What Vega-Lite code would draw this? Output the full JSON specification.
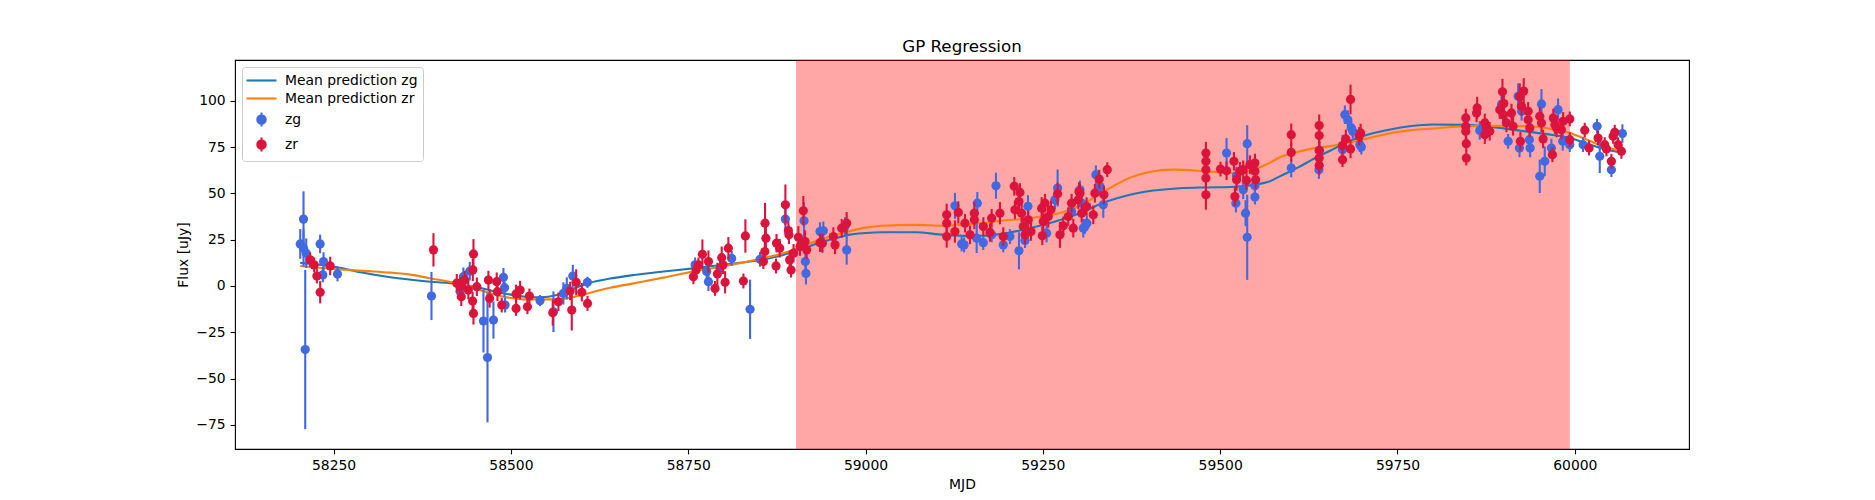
{
  "$schema": "https://vega.github.io/schema/vega-lite/v6.json",
  "width": 1454,
  "height": 389,
  "autosize": "none",
  "padding": {"left": 235, "top": 60, "right": 186, "bottom": 51},
  "background": "white",
  "title": {"text": "GP Regression", "fontSize": 16.7, "fontWeight": "normal", "font": "DejaVu Sans", "color": "black", "offset": 4},
  "datasets": {
    "span": [{"start": 58902, "end": 59993}],
    "gp": [
      {"mjd": 58203, "flux": 12.5, "band": "Mean prediction zg"},
      {"mjd": 58230, "flux": 11.5, "band": "Mean prediction zg"},
      {"mjd": 58255, "flux": 10.1, "band": "Mean prediction zg"},
      {"mjd": 58290, "flux": 7.3, "band": "Mean prediction zg"},
      {"mjd": 58330, "flux": 4.7, "band": "Mean prediction zg"},
      {"mjd": 58386, "flux": 2.3, "band": "Mean prediction zg"},
      {"mjd": 58424, "flux": 1.1, "band": "Mean prediction zg"},
      {"mjd": 58455, "flux": -1.0, "band": "Mean prediction zg"},
      {"mjd": 58490, "flux": -4.0, "band": "Mean prediction zg"},
      {"mjd": 58520, "flux": -5.8, "band": "Mean prediction zg"},
      {"mjd": 58541, "flux": -6.1, "band": "Mean prediction zg"},
      {"mjd": 58565, "flux": -4.9, "band": "Mean prediction zg"},
      {"mjd": 58590, "flux": -1.2, "band": "Mean prediction zg"},
      {"mjd": 58612, "flux": 1.8, "band": "Mean prediction zg"},
      {"mjd": 58640, "flux": 4.0, "band": "Mean prediction zg"},
      {"mjd": 58673, "flux": 5.9, "band": "Mean prediction zg"},
      {"mjd": 58715, "flux": 7.8, "band": "Mean prediction zg"},
      {"mjd": 58757, "flux": 9.5, "band": "Mean prediction zg"},
      {"mjd": 58800, "flux": 11.5, "band": "Mean prediction zg"},
      {"mjd": 58837, "flux": 13.2, "band": "Mean prediction zg"},
      {"mjd": 58884, "flux": 16.8, "band": "Mean prediction zg"},
      {"mjd": 58910, "flux": 20.0, "band": "Mean prediction zg"},
      {"mjd": 58936, "flux": 23.5, "band": "Mean prediction zg"},
      {"mjd": 58960, "flux": 26.0, "band": "Mean prediction zg"},
      {"mjd": 58976, "flux": 27.6, "band": "Mean prediction zg"},
      {"mjd": 59000, "flux": 28.6, "band": "Mean prediction zg"},
      {"mjd": 59023, "flux": 29.0, "band": "Mean prediction zg"},
      {"mjd": 59070, "flux": 29.0, "band": "Mean prediction zg"},
      {"mjd": 59110, "flux": 27.6, "band": "Mean prediction zg"},
      {"mjd": 59150, "flux": 27.0, "band": "Mean prediction zg"},
      {"mjd": 59190, "flux": 28.0, "band": "Mean prediction zg"},
      {"mjd": 59230, "flux": 31.0, "band": "Mean prediction zg"},
      {"mjd": 59265, "flux": 34.5, "band": "Mean prediction zg"},
      {"mjd": 59300, "flux": 39.0, "band": "Mean prediction zg"},
      {"mjd": 59340, "flux": 45.6, "band": "Mean prediction zg"},
      {"mjd": 59370, "flux": 49.0, "band": "Mean prediction zg"},
      {"mjd": 59396, "flux": 51.0, "band": "Mean prediction zg"},
      {"mjd": 59443, "flux": 52.8, "band": "Mean prediction zg"},
      {"mjd": 59480, "flux": 53.2, "band": "Mean prediction zg"},
      {"mjd": 59514, "flux": 53.4, "band": "Mean prediction zg"},
      {"mjd": 59547, "flux": 54.6, "band": "Mean prediction zg"},
      {"mjd": 59570, "flux": 56.5, "band": "Mean prediction zg"},
      {"mjd": 59584, "flux": 59.2, "band": "Mean prediction zg"},
      {"mjd": 59610, "flux": 64.0, "band": "Mean prediction zg"},
      {"mjd": 59631, "flux": 68.5, "band": "Mean prediction zg"},
      {"mjd": 59655, "flux": 73.0, "band": "Mean prediction zg"},
      {"mjd": 59669, "flux": 75.8, "band": "Mean prediction zg"},
      {"mjd": 59690, "flux": 79.3, "band": "Mean prediction zg"},
      {"mjd": 59711, "flux": 82.0, "band": "Mean prediction zg"},
      {"mjd": 59740, "flux": 84.5, "band": "Mean prediction zg"},
      {"mjd": 59767, "flux": 86.2, "band": "Mean prediction zg"},
      {"mjd": 59800, "flux": 87.2, "band": "Mean prediction zg"},
      {"mjd": 59843, "flux": 87.0, "band": "Mean prediction zg"},
      {"mjd": 59880, "flux": 86.0, "band": "Mean prediction zg"},
      {"mjd": 59920, "flux": 84.0, "band": "Mean prediction zg"},
      {"mjd": 59960, "flux": 82.0, "band": "Mean prediction zg"},
      {"mjd": 59993, "flux": 79.9, "band": "Mean prediction zg"},
      {"mjd": 60020, "flux": 76.5, "band": "Mean prediction zg"},
      {"mjd": 60040, "flux": 74.0, "band": "Mean prediction zg"},
      {"mjd": 60068, "flux": 72.1, "band": "Mean prediction zg"},
      {"mjd": 58203, "flux": 10.8, "band": "Mean prediction zr"},
      {"mjd": 58255, "flux": 9.0, "band": "Mean prediction zr"},
      {"mjd": 58300, "flux": 8.0, "band": "Mean prediction zr"},
      {"mjd": 58330, "flux": 7.2, "band": "Mean prediction zr"},
      {"mjd": 58360, "flux": 6.0, "band": "Mean prediction zr"},
      {"mjd": 58386, "flux": 4.2, "band": "Mean prediction zr"},
      {"mjd": 58424, "flux": 1.5, "band": "Mean prediction zr"},
      {"mjd": 58455, "flux": -2.0, "band": "Mean prediction zr"},
      {"mjd": 58490, "flux": -5.8, "band": "Mean prediction zr"},
      {"mjd": 58518, "flux": -7.2, "band": "Mean prediction zr"},
      {"mjd": 58565, "flux": -7.2, "band": "Mean prediction zr"},
      {"mjd": 58590, "flux": -5.8, "band": "Mean prediction zr"},
      {"mjd": 58612, "flux": -3.6, "band": "Mean prediction zr"},
      {"mjd": 58640, "flux": -1.0, "band": "Mean prediction zr"},
      {"mjd": 58673, "flux": 1.4, "band": "Mean prediction zr"},
      {"mjd": 58715, "flux": 4.5, "band": "Mean prediction zr"},
      {"mjd": 58757, "flux": 7.8, "band": "Mean prediction zr"},
      {"mjd": 58800, "flux": 10.7, "band": "Mean prediction zr"},
      {"mjd": 58837, "flux": 13.5, "band": "Mean prediction zr"},
      {"mjd": 58884, "flux": 17.7, "band": "Mean prediction zr"},
      {"mjd": 58936, "flux": 24.9, "band": "Mean prediction zr"},
      {"mjd": 58976, "flux": 29.4, "band": "Mean prediction zr"},
      {"mjd": 59000, "flux": 31.5, "band": "Mean prediction zr"},
      {"mjd": 59023, "flux": 32.5, "band": "Mean prediction zr"},
      {"mjd": 59070, "flux": 33.0, "band": "Mean prediction zr"},
      {"mjd": 59110, "flux": 32.5, "band": "Mean prediction zr"},
      {"mjd": 59150, "flux": 33.5, "band": "Mean prediction zr"},
      {"mjd": 59192, "flux": 35.2, "band": "Mean prediction zr"},
      {"mjd": 59239, "flux": 37.0, "band": "Mean prediction zr"},
      {"mjd": 59270, "flux": 39.0, "band": "Mean prediction zr"},
      {"mjd": 59300, "flux": 43.0, "band": "Mean prediction zr"},
      {"mjd": 59340, "flux": 51.9, "band": "Mean prediction zr"},
      {"mjd": 59373, "flux": 58.5, "band": "Mean prediction zr"},
      {"mjd": 59400, "flux": 61.5, "band": "Mean prediction zr"},
      {"mjd": 59434, "flux": 62.8, "band": "Mean prediction zr"},
      {"mjd": 59481, "flux": 61.9, "band": "Mean prediction zr"},
      {"mjd": 59518, "flux": 61.0, "band": "Mean prediction zr"},
      {"mjd": 59547, "flux": 62.8, "band": "Mean prediction zr"},
      {"mjd": 59570, "flux": 66.5, "band": "Mean prediction zr"},
      {"mjd": 59584, "flux": 69.5, "band": "Mean prediction zr"},
      {"mjd": 59610, "flux": 72.5, "band": "Mean prediction zr"},
      {"mjd": 59631, "flux": 74.3, "band": "Mean prediction zr"},
      {"mjd": 59655, "flux": 75.5, "band": "Mean prediction zr"},
      {"mjd": 59669, "flux": 76.5, "band": "Mean prediction zr"},
      {"mjd": 59690, "flux": 78.0, "band": "Mean prediction zr"},
      {"mjd": 59711, "flux": 80.0, "band": "Mean prediction zr"},
      {"mjd": 59740, "flux": 82.5, "band": "Mean prediction zr"},
      {"mjd": 59767, "flux": 84.0, "band": "Mean prediction zr"},
      {"mjd": 59800, "flux": 85.0, "band": "Mean prediction zr"},
      {"mjd": 59843, "flux": 86.2, "band": "Mean prediction zr"},
      {"mjd": 59900, "flux": 86.5, "band": "Mean prediction zr"},
      {"mjd": 59946, "flux": 86.0, "band": "Mean prediction zr"},
      {"mjd": 59970, "flux": 84.5, "band": "Mean prediction zr"},
      {"mjd": 59993, "flux": 82.6, "band": "Mean prediction zr"},
      {"mjd": 60020, "flux": 78.5, "band": "Mean prediction zr"},
      {"mjd": 60040, "flux": 75.4, "band": "Mean prediction zr"},
      {"mjd": 60068, "flux": 72.7, "band": "Mean prediction zr"}
    ],
    "zg": [
      {"mjd": 58203, "flux": 22.7, "err": 8, "band": "zg"},
      {"mjd": 58207.6, "flux": 36.1, "err": 15, "band": "zg"},
      {"mjd": 58210, "flux": -34.3, "err": 43, "band": "zg"},
      {"mjd": 58207.6, "flux": 20.4, "err": 10, "band": "zg"},
      {"mjd": 58211.4, "flux": 17.7, "err": 8, "band": "zg"},
      {"mjd": 58231, "flux": 22.7, "err": 5, "band": "zg"},
      {"mjd": 58235.8, "flux": 13.2, "err": 5, "band": "zg"},
      {"mjd": 58234.8, "flux": 6.0, "err": 4, "band": "zg"},
      {"mjd": 58255.5, "flux": 6.5, "err": 4, "band": "zg"},
      {"mjd": 58388, "flux": -5.4, "err": 13, "band": "zg"},
      {"mjd": 58428.4, "flux": -3, "err": 5, "band": "zg"},
      {"mjd": 58433, "flux": 5, "err": 5, "band": "zg"},
      {"mjd": 58442, "flux": 8, "err": 5, "band": "zg"},
      {"mjd": 58489.5, "flux": 4.7, "err": 5, "band": "zg"},
      {"mjd": 58491, "flux": -0.9, "err": 5, "band": "zg"},
      {"mjd": 58461.3, "flux": -18.9, "err": 17, "band": "zg"},
      {"mjd": 58467, "flux": -38.6, "err": 35, "band": "zg"},
      {"mjd": 58475.4, "flux": -18.4, "err": 10, "band": "zg"},
      {"mjd": 58491.8, "flux": -10.3, "err": 4, "band": "zg"},
      {"mjd": 58541.1, "flux": -7.9, "err": 3, "band": "zg"},
      {"mjd": 58560, "flux": -13.9, "err": 11, "band": "zg"},
      {"mjd": 58574, "flux": -4, "err": 6, "band": "zg"},
      {"mjd": 58578.8, "flux": -1.3, "err": 6, "band": "zg"},
      {"mjd": 58587.3, "flux": 5.4, "err": 6, "band": "zg"},
      {"mjd": 58607.9, "flux": 2, "err": 3, "band": "zg"},
      {"mjd": 58759.7, "flux": 11.4, "err": 4, "band": "zg"},
      {"mjd": 58776.1, "flux": 7.8, "err": 5, "band": "zg"},
      {"mjd": 58778.5, "flux": 2.3, "err": 5, "band": "zg"},
      {"mjd": 58794.9, "flux": 9.6, "err": 4, "band": "zg"},
      {"mjd": 58811.3, "flux": 14.9, "err": 4, "band": "zg"},
      {"mjd": 58837.2, "flux": -12.6, "err": 16, "band": "zg"},
      {"mjd": 58851.3, "flux": 14.4, "err": 4, "band": "zg"},
      {"mjd": 58887, "flux": 36.1, "err": 8, "band": "zg"},
      {"mjd": 58913.3, "flux": 35.2, "err": 10, "band": "zg"},
      {"mjd": 58915.2, "flux": 13.2, "err": 6, "band": "zg"},
      {"mjd": 58916, "flux": 6.8, "err": 6, "band": "zg"},
      {"mjd": 58935.8, "flux": 29.4, "err": 5, "band": "zg"},
      {"mjd": 58940.5, "flux": 29.8, "err": 5, "band": "zg"},
      {"mjd": 58939, "flux": 23.1, "err": 5, "band": "zg"},
      {"mjd": 58973.4, "flux": 19.5, "err": 8, "band": "zg"},
      {"mjd": 58971, "flux": 32.1, "err": 5, "band": "zg"},
      {"mjd": 59126.1, "flux": 43.3, "err": 7, "band": "zg"},
      {"mjd": 59157.6, "flux": 44.7, "err": 6, "band": "zg"},
      {"mjd": 59183.9, "flux": 54.1, "err": 7, "band": "zg"},
      {"mjd": 59135.5, "flux": 22.7, "err": 4, "band": "zg"},
      {"mjd": 59139, "flux": 22.2, "err": 4, "band": "zg"},
      {"mjd": 59156.7, "flux": 25.8, "err": 8, "band": "zg"},
      {"mjd": 59166, "flux": 23.4, "err": 4, "band": "zg"},
      {"mjd": 59177.8, "flux": 27.6, "err": 4, "band": "zg"},
      {"mjd": 59194.2, "flux": 22.2, "err": 4, "band": "zg"},
      {"mjd": 59203.6, "flux": 26.7, "err": 4, "band": "zg"},
      {"mjd": 59216.3, "flux": 19, "err": 10, "band": "zg"},
      {"mjd": 59224.8, "flux": 24.5, "err": 4, "band": "zg"},
      {"mjd": 59229, "flux": 43, "err": 6, "band": "zg"},
      {"mjd": 59255.3, "flux": 28.5, "err": 5, "band": "zg"},
      {"mjd": 59270.8, "flux": 52.9, "err": 10, "band": "zg"},
      {"mjd": 59267, "flux": 46.5, "err": 5, "band": "zg"},
      {"mjd": 59290.5, "flux": 40.2, "err": 4, "band": "zg"},
      {"mjd": 59307, "flux": 31.2, "err": 5, "band": "zg"},
      {"mjd": 59305, "flux": 44.7, "err": 5, "band": "zg"},
      {"mjd": 59302.3, "flux": 51.9, "err": 5, "band": "zg"},
      {"mjd": 59309.3, "flux": 32.1, "err": 4, "band": "zg"},
      {"mjd": 59312, "flux": 33.9, "err": 4, "band": "zg"},
      {"mjd": 59324.8, "flux": 60.1, "err": 5, "band": "zg"},
      {"mjd": 59330.5, "flux": 53.7, "err": 5, "band": "zg"},
      {"mjd": 59335.2, "flux": 43.8, "err": 7, "band": "zg"},
      {"mjd": 59509, "flux": 71.8, "err": 8, "band": "zg"},
      {"mjd": 59522.2, "flux": 44.7, "err": 5, "band": "zg"},
      {"mjd": 59523, "flux": 59.5, "err": 5, "band": "zg"},
      {"mjd": 59532.5, "flux": 51.9, "err": 5, "band": "zg"},
      {"mjd": 59538.1, "flux": 76.8, "err": 10, "band": "zg"},
      {"mjd": 59535.8, "flux": 39.3, "err": 7, "band": "zg"},
      {"mjd": 59538.1, "flux": 26.3, "err": 23, "band": "zg"},
      {"mjd": 59549, "flux": 54.1, "err": 4, "band": "zg"},
      {"mjd": 59549, "flux": 48, "err": 4, "band": "zg"},
      {"mjd": 59600.2, "flux": 63.7, "err": 5, "band": "zg"},
      {"mjd": 59639.2, "flux": 62.8, "err": 5, "band": "zg"},
      {"mjd": 59640, "flux": 73.2, "err": 5, "band": "zg"},
      {"mjd": 59672.5, "flux": 73.6, "err": 8, "band": "zg"},
      {"mjd": 59675.8, "flux": 92.5, "err": 5, "band": "zg"},
      {"mjd": 59680, "flux": 89.8, "err": 5, "band": "zg"},
      {"mjd": 59685, "flux": 85.3, "err": 4, "band": "zg"},
      {"mjd": 59687, "flux": 83.5, "err": 4, "band": "zg"},
      {"mjd": 59697, "flux": 76.3, "err": 4, "band": "zg"},
      {"mjd": 59699, "flux": 75, "err": 4, "band": "zg"},
      {"mjd": 59866, "flux": 84, "err": 5, "band": "zg"},
      {"mjd": 59896.6, "flux": 97.9, "err": 6, "band": "zg"},
      {"mjd": 59920.1, "flux": 102.4, "err": 7, "band": "zg"},
      {"mjd": 59925, "flux": 94.3, "err": 5, "band": "zg"},
      {"mjd": 59906, "flux": 78.1, "err": 4, "band": "zg"},
      {"mjd": 59922, "flux": 74.5, "err": 5, "band": "zg"},
      {"mjd": 59936, "flux": 79, "err": 5, "band": "zg"},
      {"mjd": 59937, "flux": 74.5, "err": 5, "band": "zg"},
      {"mjd": 59953, "flux": 98.3, "err": 8, "band": "zg"},
      {"mjd": 59950.6, "flux": 59.2, "err": 9, "band": "zg"},
      {"mjd": 59957.6, "flux": 67.3, "err": 8, "band": "zg"},
      {"mjd": 59967, "flux": 74.5, "err": 5, "band": "zg"},
      {"mjd": 59976.4, "flux": 95.2, "err": 6, "band": "zg"},
      {"mjd": 59983, "flux": 78.1, "err": 5, "band": "zg"},
      {"mjd": 59992.9, "flux": 76.3, "err": 4, "band": "zg"},
      {"mjd": 60011.7, "flux": 76.3, "err": 4, "band": "zg"},
      {"mjd": 60031.4, "flux": 86.2, "err": 4, "band": "zg"},
      {"mjd": 60035.2, "flux": 70, "err": 9, "band": "zg"},
      {"mjd": 60051.6, "flux": 62.8, "err": 4, "band": "zg"},
      {"mjd": 60067.1, "flux": 82.3, "err": 5, "band": "zg"}
    ],
    "zr": [
      {"mjd": 58217, "flux": 14.1, "err": 4, "band": "zr"},
      {"mjd": 58222.6, "flux": 11.4, "err": 4, "band": "zr"},
      {"mjd": 58226.4, "flux": 5.4, "err": 4, "band": "zr"},
      {"mjd": 58231.1, "flux": -3.4, "err": 6, "band": "zr"},
      {"mjd": 58245.2, "flux": 10.8, "err": 5, "band": "zr"},
      {"mjd": 58390.8, "flux": 19.5, "err": 9, "band": "zr"},
      {"mjd": 58447.2, "flux": 17.3, "err": 8, "band": "zr"},
      {"mjd": 58446.3, "flux": 8.7, "err": 6, "band": "zr"},
      {"mjd": 58447.2, "flux": -14.8, "err": 6, "band": "zr"},
      {"mjd": 58446, "flux": -8.1, "err": 5, "band": "zr"},
      {"mjd": 58428.4, "flux": -0.4, "err": 5, "band": "zr"},
      {"mjd": 58430, "flux": -5.8, "err": 5, "band": "zr"},
      {"mjd": 58423.7, "flux": 1.5, "err": 5, "band": "zr"},
      {"mjd": 58435, "flux": 3.2, "err": 5, "band": "zr"},
      {"mjd": 58440, "flux": -2.2, "err": 5, "band": "zr"},
      {"mjd": 58452, "flux": -0.4, "err": 5, "band": "zr"},
      {"mjd": 58468.3, "flux": 3.2, "err": 5, "band": "zr"},
      {"mjd": 58470, "flux": -6.7, "err": 5, "band": "zr"},
      {"mjd": 58480, "flux": 2.3, "err": 5, "band": "zr"},
      {"mjd": 58481, "flux": -3.1, "err": 5, "band": "zr"},
      {"mjd": 58487.1, "flux": -10.3, "err": 4, "band": "zr"},
      {"mjd": 58507.3, "flux": -4.3, "err": 5, "band": "zr"},
      {"mjd": 58507.3, "flux": -12.1, "err": 4, "band": "zr"},
      {"mjd": 58513, "flux": -2.2, "err": 5, "band": "zr"},
      {"mjd": 58523.3, "flux": -11.2, "err": 4, "band": "zr"},
      {"mjd": 58526.1, "flux": -5.4, "err": 4, "band": "zr"},
      {"mjd": 58559, "flux": -14.4, "err": 7, "band": "zr"},
      {"mjd": 58567, "flux": -8.5, "err": 5, "band": "zr"},
      {"mjd": 58585.8, "flux": -13, "err": 11, "band": "zr"},
      {"mjd": 58583.5, "flux": -2.7, "err": 5, "band": "zr"},
      {"mjd": 58592, "flux": 2, "err": 7, "band": "zr"},
      {"mjd": 58600, "flux": -3.4, "err": 5, "band": "zr"},
      {"mjd": 58608, "flux": -9.4, "err": 4, "band": "zr"},
      {"mjd": 58757.3, "flux": 5, "err": 4, "band": "zr"},
      {"mjd": 58761, "flux": 8.6, "err": 4, "band": "zr"},
      {"mjd": 58764.4, "flux": 11.4, "err": 4, "band": "zr"},
      {"mjd": 58770, "flux": 17.1, "err": 8, "band": "zr"},
      {"mjd": 58778.5, "flux": 13.2, "err": 6, "band": "zr"},
      {"mjd": 58787.8, "flux": -1.3, "err": 4, "band": "zr"},
      {"mjd": 58791.1, "flux": 6.5, "err": 6, "band": "zr"},
      {"mjd": 58797.2, "flux": 15.3, "err": 6, "band": "zr"},
      {"mjd": 58799, "flux": 11.4, "err": 5, "band": "zr"},
      {"mjd": 58802, "flux": 2, "err": 6, "band": "zr"},
      {"mjd": 58806.6, "flux": 20.4, "err": 6, "band": "zr"},
      {"mjd": 58827.8, "flux": 2.7, "err": 4, "band": "zr"},
      {"mjd": 58830.6, "flux": 27, "err": 9, "band": "zr"},
      {"mjd": 58858.3, "flux": 33.9, "err": 11, "band": "zr"},
      {"mjd": 58859.5, "flux": 25.8, "err": 8, "band": "zr"},
      {"mjd": 58858, "flux": 18.6, "err": 5, "band": "zr"},
      {"mjd": 58856, "flux": 13.2, "err": 4, "band": "zr"},
      {"mjd": 58873.8, "flux": 10.8, "err": 4, "band": "zr"},
      {"mjd": 58874.5, "flux": 23.1, "err": 5, "band": "zr"},
      {"mjd": 58879, "flux": 20.4, "err": 5, "band": "zr"},
      {"mjd": 58887, "flux": 43.8, "err": 11, "band": "zr"},
      {"mjd": 58891.2, "flux": 29.9, "err": 5, "band": "zr"},
      {"mjd": 58892, "flux": 27.6, "err": 5, "band": "zr"},
      {"mjd": 58893, "flux": 14.1, "err": 5, "band": "zr"},
      {"mjd": 58895, "flux": 8.6, "err": 4, "band": "zr"},
      {"mjd": 58898.5, "flux": 17.7, "err": 5, "band": "zr"},
      {"mjd": 58905.3, "flux": 26.3, "err": 6, "band": "zr"},
      {"mjd": 58907.6, "flux": 21.3, "err": 5, "band": "zr"},
      {"mjd": 58912.3, "flux": 40.6, "err": 8, "band": "zr"},
      {"mjd": 58914.7, "flux": 24, "err": 6, "band": "zr"},
      {"mjd": 58917, "flux": 19.5, "err": 5, "band": "zr"},
      {"mjd": 58935.8, "flux": 23.4, "err": 5, "band": "zr"},
      {"mjd": 58939.1, "flux": 23.1, "err": 5, "band": "zr"},
      {"mjd": 58954.6, "flux": 26.7, "err": 5, "band": "zr"},
      {"mjd": 58957, "flux": 22.2, "err": 5, "band": "zr"},
      {"mjd": 58966.4, "flux": 31.2, "err": 5, "band": "zr"},
      {"mjd": 58973.4, "flux": 33.9, "err": 6, "band": "zr"},
      {"mjd": 59114.4, "flux": 38.4, "err": 6, "band": "zr"},
      {"mjd": 59114.4, "flux": 33.9, "err": 6, "band": "zr"},
      {"mjd": 59114.4, "flux": 26.7, "err": 6, "band": "zr"},
      {"mjd": 59130.8, "flux": 39.7, "err": 6, "band": "zr"},
      {"mjd": 59126, "flux": 29.4, "err": 6, "band": "zr"},
      {"mjd": 59140.2, "flux": 33.9, "err": 5, "band": "zr"},
      {"mjd": 59147.3, "flux": 27.6, "err": 5, "band": "zr"},
      {"mjd": 59153.4, "flux": 39.3, "err": 6, "band": "zr"},
      {"mjd": 59153.4, "flux": 35.7, "err": 5, "band": "zr"},
      {"mjd": 59166.1, "flux": 32.1, "err": 5, "band": "zr"},
      {"mjd": 59175.4, "flux": 28.9, "err": 5, "band": "zr"},
      {"mjd": 59177.8, "flux": 36.6, "err": 5, "band": "zr"},
      {"mjd": 59189.5, "flux": 39.3, "err": 6, "band": "zr"},
      {"mjd": 59194.2, "flux": 26.7, "err": 5, "band": "zr"},
      {"mjd": 59209.7, "flux": 53.8, "err": 5, "band": "zr"},
      {"mjd": 59210.6, "flux": 41.1, "err": 5, "band": "zr"},
      {"mjd": 59217.7, "flux": 50.5, "err": 5, "band": "zr"},
      {"mjd": 59216.3, "flux": 45.6, "err": 5, "band": "zr"},
      {"mjd": 59220, "flux": 39.3, "err": 5, "band": "zr"},
      {"mjd": 59222.4, "flux": 32.1, "err": 5, "band": "zr"},
      {"mjd": 59224.8, "flux": 27.6, "err": 5, "band": "zr"},
      {"mjd": 59229.5, "flux": 35.7, "err": 5, "band": "zr"},
      {"mjd": 59233.3, "flux": 29.4, "err": 5, "band": "zr"},
      {"mjd": 59248.3, "flux": 42, "err": 6, "band": "zr"},
      {"mjd": 59250.6, "flux": 34.8, "err": 5, "band": "zr"},
      {"mjd": 59249.2, "flux": 27.1, "err": 5, "band": "zr"},
      {"mjd": 59253, "flux": 44.7, "err": 5, "band": "zr"},
      {"mjd": 59257.7, "flux": 37.5, "err": 6, "band": "zr"},
      {"mjd": 59261.4, "flux": 41.1, "err": 5, "band": "zr"},
      {"mjd": 59270.8, "flux": 49.8, "err": 6, "band": "zr"},
      {"mjd": 59274.1, "flux": 27.6, "err": 7, "band": "zr"},
      {"mjd": 59278.8, "flux": 32.5, "err": 5, "band": "zr"},
      {"mjd": 59285.8, "flux": 37.5, "err": 5, "band": "zr"},
      {"mjd": 59290.5, "flux": 44.7, "err": 5, "band": "zr"},
      {"mjd": 59292.9, "flux": 31.2, "err": 5, "band": "zr"},
      {"mjd": 59301, "flux": 51, "err": 5, "band": "zr"},
      {"mjd": 59304.7, "flux": 39.3, "err": 5, "band": "zr"},
      {"mjd": 59300, "flux": 46.5, "err": 5, "band": "zr"},
      {"mjd": 59302.3, "flux": 50.1, "err": 5, "band": "zr"},
      {"mjd": 59311.7, "flux": 42.9, "err": 5, "band": "zr"},
      {"mjd": 59321.1, "flux": 38.4, "err": 5, "band": "zr"},
      {"mjd": 59323.4, "flux": 50.1, "err": 5, "band": "zr"},
      {"mjd": 59329.5, "flux": 57.7, "err": 5, "band": "zr"},
      {"mjd": 59336.1, "flux": 49.2, "err": 5, "band": "zr"},
      {"mjd": 59340.8, "flux": 62.8, "err": 4, "band": "zr"},
      {"mjd": 59479.9, "flux": 71.8, "err": 6, "band": "zr"},
      {"mjd": 59479.9, "flux": 67.3, "err": 6, "band": "zr"},
      {"mjd": 59479.9, "flux": 62.8, "err": 6, "band": "zr"},
      {"mjd": 59479.9, "flux": 58.3, "err": 6, "band": "zr"},
      {"mjd": 59479.9, "flux": 49.2, "err": 8, "band": "zr"},
      {"mjd": 59500.5, "flux": 63.1, "err": 4, "band": "zr"},
      {"mjd": 59509, "flux": 62.2, "err": 5, "band": "zr"},
      {"mjd": 59519.4, "flux": 67.3, "err": 5, "band": "zr"},
      {"mjd": 59520.8, "flux": 48.3, "err": 5, "band": "zr"},
      {"mjd": 59523.1, "flux": 57.4, "err": 6, "band": "zr"},
      {"mjd": 59527.8, "flux": 61.9, "err": 5, "band": "zr"},
      {"mjd": 59532.5, "flux": 62.8, "err": 5, "band": "zr"},
      {"mjd": 59537.2, "flux": 57, "err": 5, "band": "zr"},
      {"mjd": 59541.9, "flux": 65.5, "err": 5, "band": "zr"},
      {"mjd": 59549, "flux": 66.4, "err": 5, "band": "zr"},
      {"mjd": 59549, "flux": 61.9, "err": 5, "band": "zr"},
      {"mjd": 59550, "flux": 57.4, "err": 5, "band": "zr"},
      {"mjd": 59600.2, "flux": 81.7, "err": 6, "band": "zr"},
      {"mjd": 59600.2, "flux": 72.1, "err": 5, "band": "zr"},
      {"mjd": 59639.6, "flux": 86.6, "err": 6, "band": "zr"},
      {"mjd": 59639.6, "flux": 81.2, "err": 5, "band": "zr"},
      {"mjd": 59639.6, "flux": 73.2, "err": 5, "band": "zr"},
      {"mjd": 59639.6, "flux": 69.1, "err": 5, "band": "zr"},
      {"mjd": 59639.6, "flux": 65, "err": 5, "band": "zr"},
      {"mjd": 59672.5, "flux": 68.2, "err": 4, "band": "zr"},
      {"mjd": 59677.2, "flux": 79.4, "err": 5, "band": "zr"},
      {"mjd": 59672.5, "flux": 75.8, "err": 4, "band": "zr"},
      {"mjd": 59683.8, "flux": 100.7, "err": 8, "band": "zr"},
      {"mjd": 59683.8, "flux": 74, "err": 5, "band": "zr"},
      {"mjd": 59696, "flux": 80.8, "err": 5, "band": "zr"},
      {"mjd": 59698, "flux": 82.6, "err": 5, "band": "zr"},
      {"mjd": 59846.3, "flux": 90.7, "err": 5, "band": "zr"},
      {"mjd": 59846.3, "flux": 86.2, "err": 5, "band": "zr"},
      {"mjd": 59846.3, "flux": 83.5, "err": 5, "band": "zr"},
      {"mjd": 59847, "flux": 76.8, "err": 4, "band": "zr"},
      {"mjd": 59847, "flux": 69.1, "err": 4, "band": "zr"},
      {"mjd": 59862.3, "flux": 96.1, "err": 6, "band": "zr"},
      {"mjd": 59861.5, "flux": 93.4, "err": 5, "band": "zr"},
      {"mjd": 59873.1, "flux": 88, "err": 5, "band": "zr"},
      {"mjd": 59873.1, "flux": 81.7, "err": 5, "band": "zr"},
      {"mjd": 59875.5, "flux": 85.3, "err": 5, "band": "zr"},
      {"mjd": 59880, "flux": 83.5, "err": 5, "band": "zr"},
      {"mjd": 59894.2, "flux": 95.2, "err": 5, "band": "zr"},
      {"mjd": 59898, "flux": 104.8, "err": 7, "band": "zr"},
      {"mjd": 59900, "flux": 98.5, "err": 6, "band": "zr"},
      {"mjd": 59899, "flux": 92.5, "err": 5, "band": "zr"},
      {"mjd": 59903.6, "flux": 88, "err": 5, "band": "zr"},
      {"mjd": 59910.7, "flux": 93.4, "err": 5, "band": "zr"},
      {"mjd": 59913, "flux": 86.2, "err": 5, "band": "zr"},
      {"mjd": 59922.4, "flux": 102.4, "err": 7, "band": "zr"},
      {"mjd": 59928, "flux": 105.2, "err": 7, "band": "zr"},
      {"mjd": 59924.8, "flux": 97, "err": 5, "band": "zr"},
      {"mjd": 59934.2, "flux": 94.3, "err": 5, "band": "zr"},
      {"mjd": 59934.2, "flux": 89.8, "err": 5, "band": "zr"},
      {"mjd": 59936.5, "flux": 85.3, "err": 5, "band": "zr"},
      {"mjd": 59923.3, "flux": 78.1, "err": 5, "band": "zr"},
      {"mjd": 59950.6, "flux": 91.6, "err": 5, "band": "zr"},
      {"mjd": 59953, "flux": 88, "err": 5, "band": "zr"},
      {"mjd": 59955.3, "flux": 79.4, "err": 5, "band": "zr"},
      {"mjd": 59968.4, "flux": 70.9, "err": 4, "band": "zr"},
      {"mjd": 59969.7, "flux": 90.7, "err": 5, "band": "zr"},
      {"mjd": 59972, "flux": 87.1, "err": 5, "band": "zr"},
      {"mjd": 59974.4, "flux": 85.3, "err": 5, "band": "zr"},
      {"mjd": 59981.1, "flux": 84.4, "err": 5, "band": "zr"},
      {"mjd": 59983.5, "flux": 88.9, "err": 5, "band": "zr"},
      {"mjd": 59992.9, "flux": 90.2, "err": 4, "band": "zr"},
      {"mjd": 59992.9, "flux": 79, "err": 4, "band": "zr"},
      {"mjd": 60014, "flux": 84.1, "err": 4, "band": "zr"},
      {"mjd": 60020.1, "flux": 74.5, "err": 4, "band": "zr"},
      {"mjd": 60032.8, "flux": 79.9, "err": 4, "band": "zr"},
      {"mjd": 60042.2, "flux": 76.3, "err": 4, "band": "zr"},
      {"mjd": 60044.6, "flux": 74, "err": 4, "band": "zr"},
      {"mjd": 60051.6, "flux": 67.3, "err": 4, "band": "zr"},
      {"mjd": 60054, "flux": 80.8, "err": 4, "band": "zr"},
      {"mjd": 60056.3, "flux": 83, "err": 4, "band": "zr"},
      {"mjd": 60061, "flux": 76.3, "err": 4, "band": "zr"},
      {"mjd": 60065.7, "flux": 72.7, "err": 4, "band": "zr"}
    ]
  },
  "layer": [
    {
      "data": {"name": "span"},
      "mark": {"type": "rect", "color": "#ff0000", "opacity": 0.35},
      "encoding": {
        "x": {"field": "start", "type": "quantitative", "title": "MJD",
              "scale": {"domain": [58111, 60161], "nice": false, "zero": false},
              "axis": {"values": [58250, 58500, 58750, 59000, 59250, 59500, 59750, 60000], "format": "d"}},
        "x2": {"field": "end"}
      }
    },
    {
      "data": {"name": "gp"},
      "mark": {"type": "line", "strokeWidth": 2.1, "interpolate": "monotone"},
      "encoding": {
        "x": {"field": "mjd", "type": "quantitative", "title": "MJD", "scale": {"domain": [58111, 60161], "nice": false, "zero": false}},
        "y": {"field": "flux", "type": "quantitative", "title": "Flux [uJy]",
              "scale": {"domain": [-88, 122], "nice": false, "zero": false},
              "axis": {"values": [-75, -50, -25, 0, 25, 50, 75, 100], "format": "d"}},
        "color": {
          "field": "band", "type": "nominal",
          "scale": {"domain": ["Mean prediction zg", "Mean prediction zr", "zg", "zr"], "range": ["#1f77b4", "#ff7f0e", "#4169e1", "#dc143c"]},
          "legend": {
            "title": null, "orient": "top-left", "offset": 7, "padding": 5,
            "fillColor": "white", "strokeColor": "#cccccc", "cornerRadius": 3,
            "labelFontSize": 13.9, "labelFont": "DejaVu Sans", "labelColor": "black",
            "labelOffset": 15, "rowPadding": 2, "symbolSize": 196, "symbolOffset": 6,
            "encode": {
              "symbols": {
                "update": {
                  "shape": {"signal": "datum.value == 'zg' || datum.value == 'zr' ? 'M-0.6,0A0.6,0.6,0,1,1,0.6,0A0.6,0.6,0,1,1,-0.6,0ZM0,-1L0,1' : 'M-2.14,0L2.14,0'"},
                  "size": {"value": 196},
                  "fill": {"signal": "datum.value == 'zg' || datum.value == 'zr' ? scale('color', datum.value) : 'transparent'"},
                  "stroke": {"signal": "scale('color', datum.value)"},
                  "strokeWidth": {"value": 2.1},
                  "opacity": {"value": 1},
                  "fillOpacity": {"value": 1}
                }
              }
            }
          }
        }
      }
    },
    {
      "data": {"name": "zg"},
      "mark": {"type": "errorbar", "thickness": 2.1, "color": "#4169e1"},
      "encoding": {
        "x": {"field": "mjd", "type": "quantitative", "title": "MJD", "scale": {"domain": [58111, 60161], "nice": false, "zero": false}},
        "y": {"field": "flux", "type": "quantitative", "title": "Flux [uJy]", "scale": {"domain": [-88, 122], "nice": false, "zero": false}},
        "yError": {"field": "err"}
      }
    },
    {
      "data": {"name": "zg"},
      "mark": {"type": "circle", "size": 85, "opacity": 1},
      "encoding": {
        "x": {"field": "mjd", "type": "quantitative", "title": "MJD", "scale": {"domain": [58111, 60161], "nice": false, "zero": false}},
        "y": {"field": "flux", "type": "quantitative", "title": "Flux [uJy]", "scale": {"domain": [-88, 122], "nice": false, "zero": false}},
        "color": {"field": "band", "type": "nominal", "scale": {"domain": ["Mean prediction zg", "Mean prediction zr", "zg", "zr"], "range": ["#1f77b4", "#ff7f0e", "#4169e1", "#dc143c"]}}
      }
    },
    {
      "data": {"name": "zr"},
      "mark": {"type": "errorbar", "thickness": 2.1, "color": "#dc143c"},
      "encoding": {
        "x": {"field": "mjd", "type": "quantitative", "title": "MJD", "scale": {"domain": [58111, 60161], "nice": false, "zero": false}},
        "y": {"field": "flux", "type": "quantitative", "title": "Flux [uJy]", "scale": {"domain": [-88, 122], "nice": false, "zero": false}},
        "yError": {"field": "err"}
      }
    },
    {
      "data": {"name": "zr"},
      "mark": {"type": "circle", "size": 85, "opacity": 1},
      "encoding": {
        "x": {"field": "mjd", "type": "quantitative", "title": "MJD", "scale": {"domain": [58111, 60161], "nice": false, "zero": false}},
        "y": {"field": "flux", "type": "quantitative", "title": "Flux [uJy]", "scale": {"domain": [-88, 122], "nice": false, "zero": false}},
        "color": {"field": "band", "type": "nominal", "scale": {"domain": ["Mean prediction zg", "Mean prediction zr", "zg", "zr"], "range": ["#1f77b4", "#ff7f0e", "#4169e1", "#dc143c"]}}
      }
    }
  ],
  "config": {
    "font": "DejaVu Sans",
    "view": {"stroke": "black", "strokeWidth": 1.1},
    "axis": {
      "grid": false, "domain": false, "zindex": 1,
      "tickColor": "black", "tickSize": 4.9, "tickWidth": 1.1,
      "labelFontSize": 13.9, "labelColor": "black", "labelPadding": 4.9, "labelFont": "DejaVu Sans",
      "titleFontSize": 13.9, "titleFontWeight": "normal", "titleColor": "black", "titleFont": "DejaVu Sans", "titlePadding": 5
    }
  }
}
